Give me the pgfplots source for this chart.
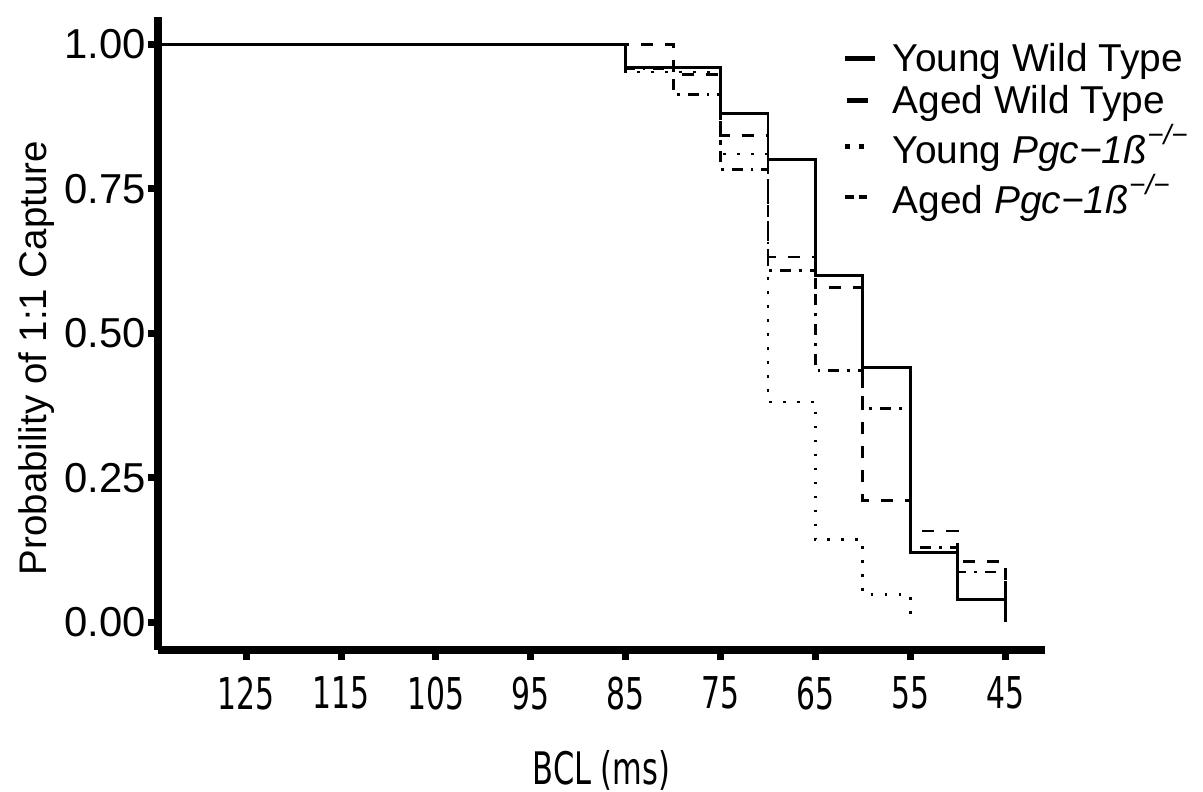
\documentclass[border=0pt]{standalone}
\usepackage{fontspec}
\setmainfont{Liberation Sans}
\newfontfamily\condfont{DejaVu Sans}[FakeStretch=0.68]
\usepackage{pgfplots}
\pgfplotsset{compat=1.18}
\newcommand{\ko}{\raisebox{0.48em}[0.93em][0pt]{\fontsize{14}{14}\selectfont\textit{−/−}}}

\begin{document}
\begin{tikzpicture}
\begin{axis}[
    at={(0,0)}, anchor=south west,
    width=443.5bp, height=316.5bp, scale only axis,
    x dir=reverse,
    xmin=40.8, xmax=134.3,
    ymin=-0.048, ymax=1.047,
    axis x line=bottom, axis y line=left,
    axis line style={-, line width=4bp, black},
    xtick={45,55,...,125},
    ytick={0,0.25,0.5,0.75,1},
    tick align=outside,
    major tick length=5bp,
    tick style={line width=3.5bp, black},
    /pgf/number format/assume math mode=true,
    xticklabel style={font=\condfont\fontsize{22}{26}\selectfont, yshift=-5bp},
    yticklabel style={/pgf/number format/.cd, fixed, fixed zerofill, precision=2, /tikz/.cd,
        font=\fontsize{21}{24}\selectfont, inner sep=1bp},
    xlabel={BCL (ms)},
    xlabel style={font=\condfont\fontsize{22.5}{26}\selectfont, at={(rel axis cs:0.5,0)}, anchor=center, yshift=-60bp},
    ylabel={Probability of 1:1 Capture},
    ylabel style={font=\fontsize{19.3}{23}\selectfont, at={(rel axis cs:0,0.461)}, anchor=center, rotate=0, yshift=60.5bp},
    legend style={draw=none, fill=none, at={(rel axis cs:0.765,0.972)}, anchor=north west,
        font=\fontsize{19.5}{23}\selectfont, row sep=1.5bp,
        /tikz/every odd column/.append style={column sep=5.5bp}},
    legend cell align=left,
]
\coordinate (bl) at (rel axis cs:0,0);

\addplot[const plot, line width=1.4bp, black, solid,
    legend image code/.code={\draw[line width=2.4bp, solid] (0bp,0bp) -- (15bp,0bp);}]
    coordinates {(134,1) (85,0.96) (75,0.88) (70,0.80) (65,0.60) (60,0.44) (55,0.12) (50,0.04) (45,0)};
\addlegendentry{Young Wild Type}

\addplot[const plot, line width=1.4bp, black, dash pattern=on 6bp off 6bp,
    legend image code/.code={\draw[line width=2.4bp, solid] (0.8bp,0bp) -- (11.5bp,0bp);}]
    coordinates {(134,1) (80,0.947) (75,0.842) (70,0.632) (65,0.579) (60,0.211) (55,0.158) (50,0.105) (45,0)};
\addlegendentry{Aged Wild Type}

\addplot[const plot, line width=1.4bp, black, dash pattern=on 1.4bp off 5.6bp,
    legend image code/.code={\draw[line width=2.4bp, dash pattern=on 2.4bp off 4.3bp] (0bp,0bp) -- (9.5bp,0bp);}]
    coordinates {(134,1) (85,0.952) (75,0.810) (70,0.381) (65,0.143) (60,0.048) (55,0)};
\addlegendentry{Young \textit{Pgc−1ß}\ko}

\addplot[const plot, line width=1.4bp, black, dash pattern=on 1.4bp off 4bp on 5.5bp off 4bp,
    legend image code/.code={\draw[line width=2.4bp, dash pattern=on 4.2bp off 2.5bp] (0bp,0bp) -- (10.8bp,0bp);}]
    coordinates {(134,1) (85,0.957) (80,0.913) (75,0.783) (70,0.609) (65,0.435) (60,0.370) (55,0.130) (50,0.087) (45,0)};
\addlegendentry{Aged \textit{Pgc−1ß}\ko}
\end{axis}
\pgfresetboundingbox
\path (bl) ++(-79bp,-71bp) rectangle ++(601.5bp,396bp);
\end{tikzpicture}
\end{document}
